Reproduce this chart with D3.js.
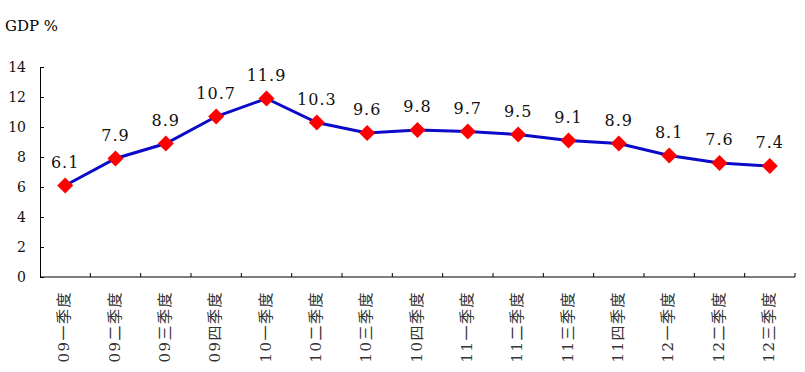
<!DOCTYPE html>
<html>
<head>
<meta charset="utf-8">
<script src="https://cdn.jsdelivr.net/npm/d3@7"></script>
<style>
  body { margin: 0; background: #fff; }
</style>
</head>
<body>
<svg id="chart"></svg>
<script>
// GDP growth by quarter
const quarters = ['09一季度', '09二季度', '09三季度', '09四季度', '10一季度', '10二季度', '10三季度',
  '10四季度', '11一季度', '11二季度', '11三季度', '11四季度', '12一季度', '12二季度', '12三季度'];
const gdp = [6.1, 7.9, 8.9, 10.7, 11.9, 10.3, 9.6, 9.8, 9.7, 9.5, 9.1, 8.9, 8.1, 7.6, 7.4];
const yTicks = [0, 2, 4, 6, 8, 10, 12, 14];

const width = 805, height = 372;
const margin = { top: 67, right: 10, bottom: 95, left: 40 };
const font = "'DejaVu Serif', 'Liberation Serif', 'Noto Sans CJK SC', serif";

const svg = d3.select('#chart')
    .attr('width', width)
    .attr('height', height)
    .attr('font-family', font);

svg.append('rect')
    .attr('width', width)
    .attr('height', height)
    .attr('fill', '#fff');

const x = d3.scaleBand()
    .domain(quarters)
    .range([margin.left, width - margin.right]);

const y = d3.scaleLinear()
    .domain([0, 14])
    .range([height - margin.bottom, margin.top]);

// y axis, ticks pointing inside
const yAxis = svg.append('g')
    .attr('transform', `translate(${margin.left},0)`)
    .call(d3.axisLeft(y).tickValues(yTicks).tickSize(-4).tickPadding(14).tickSizeOuter(0));
yAxis.attr('font-family', font);
yAxis.select('.domain').attr('stroke', '#000');
yAxis.selectAll('text')
    .attr('font-size', 14)
    .attr('fill', '#111');

// x axis: ticks on band edges
const xg = svg.append('g');
xg.append('line')
    .attr('x1', margin.left).attr('x2', width - margin.right)
    .attr('y1', y(0)).attr('y2', y(0))
    .attr('stroke', '#000');
xg.selectAll('.xtick')
    .data(quarters)
    .join('line')
    .attr('class', 'xtick')
    .attr('x1', d => x(d) + x.bandwidth())
    .attr('x2', d => x(d) + x.bandwidth())
    .attr('y1', y(0)).attr('y2', y(0) - 4)
    .attr('stroke', '#000');
xg.selectAll('.xlabel')
    .data(quarters)
    .join('text')
    .attr('class', 'xlabel')
    .attr('transform', d => `translate(${x(d) + x.bandwidth() / 2 - 1},${y(0) + 14}) rotate(-90)`)
    .attr('text-anchor', 'end')
    .attr('dominant-baseline', 'central')
    .attr('font-size', 15)
    .attr('letter-spacing', 1.5)
    .attr('fill', '#333')
    .text(d => d);

// unit label
svg.append('text')
    .attr('x', 5)
    .attr('y', 31)
    .attr('font-size', 15)
    .text('GDP %');

const cx = d => x(d) + x.bandwidth() / 2;

const line = d3.line()
    .x((d, i) => cx(quarters[i]))
    .y(d => y(d));

svg.append('path')
    .datum(gdp)
    .attr('d', line)
    .attr('fill', 'none')
    .attr('stroke', '#0a0ac8')
    .attr('stroke-width', 3);

svg.selectAll('.marker')
    .data(gdp)
    .join('path')
    .attr('class', 'marker')
    .attr('d', 'M0,-8L8,0L0,8L-8,0Z')
    .attr('transform', (d, i) => `translate(${cx(quarters[i])},${y(d)})`)
    .attr('fill', '#ff0000');

svg.selectAll('.vlabel')
    .data(gdp)
    .join('text')
    .attr('class', 'vlabel')
    .attr('x', (d, i) => cx(quarters[i]))
    .attr('y', d => y(d) - 18)
    .attr('text-anchor', 'middle')
    .attr('font-size', 16)
    .attr('letter-spacing', 1)
    .attr('fill', '#111')
    .text(d => d.toFixed(1));
</script>
</body>
</html>
